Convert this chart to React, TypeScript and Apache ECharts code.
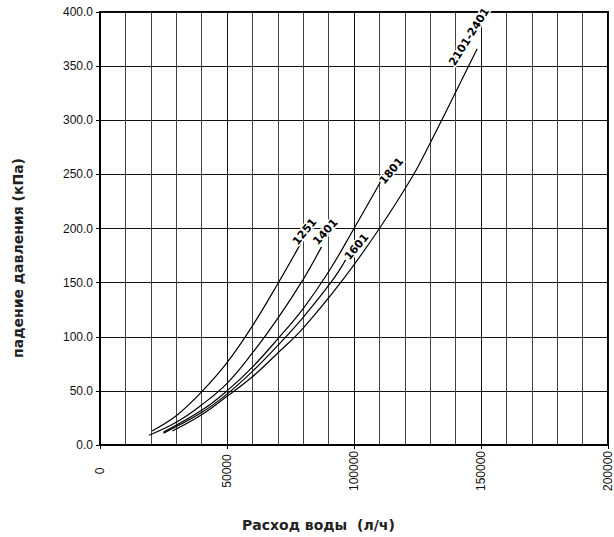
import React, { useEffect, useRef } from 'react';
import * as echarts from 'echarts';

// Axis ticks (labels)
const xTickValues = [0, 50000, 100000, 150000, 200000];
const yTickValues = [0, 50, 100, 150, 200, 250, 300, 350, 400];

// Curves: flow (л/ч) and pressure drop (кПа)
const curveNames = ['1251', '1401', '1601', '1801', '2101-2401'];

const q1251 = [20500, 30000, 40000, 50000, 60000, 70000, 79000];
const p1251 = [13, 27, 49, 76, 110, 149, 186];

const q1401 = [19300, 30000, 40000, 50000, 60000, 70000, 80000, 87200];
const p1401 = [9, 21, 37, 57, 85, 117, 153, 183];

const q1601 = [25000, 40000, 50000, 60000, 70000, 80000, 91500, 96700];
const p1601 = [11, 30, 47, 68, 92, 118, 152, 171];

const q1801 = [25000, 40000, 50000, 60000, 70000, 80000, 90000, 100000, 110400];
const p1801 = [12, 32, 50, 72, 98, 126, 160, 200, 243];

const q2101 = [28500, 40000, 50000, 60000, 70000, 80000, 95400, 110000, 123000, 130000, 148500];
const p2101 = [13, 28, 45, 63, 85, 108, 152, 200, 248, 279, 366];

const flows = [q1251, q1401, q1601, q1801, q2101];
const drops = [p1251, p1401, p1601, p1801, p2101];

// label placement (pixel offset of text centre from curve end, rotation in degrees)
const labelDx = [4, 4, 11, 11, -8];
const labelDy = [-12, -15, -13, -11, -12];
const labelAngle = [51, 48, 50, 50, 58];

export default function App() {
  const ref = useRef<HTMLDivElement>(null);
  useEffect(() => {
    if (!ref.current) return;
    const chart = echarts.init(ref.current, null, { renderer: 'svg' });
    const tickFont = '"Liberation Sans", Arial, sans-serif';
    const option: any = {
      animation: false,
      backgroundColor: '#fff',
      grid: {
        left: 100,
        right: 4,
        top: 12,
        bottom: 92,
        show: true,
        borderColor: '#000',
        borderWidth: 2,
        containLabel: false,
      },
      xAxis: {
        type: 'value',
        min: xTickValues[0],
        max: xTickValues[xTickValues.length - 1],
        interval: xTickValues[1] - xTickValues[0],
        axisLine: { show: true, lineStyle: { color: '#000', width: 2 } },
        axisTick: { show: true, length: 4, inside: false, lineStyle: { color: '#000' } },
        axisLabel: {
          rotate: 90,
          margin: 26,
          align: 'center',
          verticalAlign: 'middle',
          color: '#111',
          fontFamily: tickFont,
          fontSize: 12,
          formatter: (v: number) => String(v),
        },
        splitLine: { show: true, lineStyle: { color: '#111', width: 1 } },
        minorTick: { show: false, splitNumber: 5 },
        minorSplitLine: { show: true, lineStyle: { color: '#444', width: 1 } },
      },
      yAxis: {
        type: 'value',
        min: yTickValues[0],
        max: yTickValues[yTickValues.length - 1],
        interval: yTickValues[1] - yTickValues[0],
        axisLine: { show: true, lineStyle: { color: '#000', width: 2 } },
        axisTick: { show: true, length: 4, lineStyle: { color: '#000' } },
        axisLabel: {
          margin: 7,
          color: '#111',
          fontFamily: tickFont,
          fontSize: 12,
          formatter: (v: number) => v.toFixed(1),
        },
        splitLine: { show: true, lineStyle: { color: '#111', width: 1 } },
      },
      series: curveNames.map((name, i) => ({
        name,
        type: 'line',
        data: flows[i].map((q, j) => [q, drops[i][j]]),
        showSymbol: false,
        symbol: 'none',
        smooth: 0.4,
        lineStyle: { color: '#000', width: 1.2 },
        z: 5,
      })),
      graphic: [
        {
          type: 'text',
          left: 242,
          top: 518,
          style: {
            text: 'Расход воды  (л/ч)',
            font: 'bold 14px "DejaVu Sans", sans-serif',
            fill: '#222',
          },
        },
        {
          type: 'text',
          x: 18,
          y: 258,
          rotation: Math.PI / 2,
          style: {
            text: 'падение давления (кПа)',
            font: 'bold 14px "DejaVu Sans", sans-serif',
            fill: '#222',
            align: 'center',
            verticalAlign: 'middle',
            textAlign: 'center',
            textVerticalAlign: 'middle',
          },
        },
      ],
    };
    chart.setOption(option);

    const labels = curveNames.map((name, i) => {
      const q = flows[i][flows[i].length - 1];
      const p = drops[i][drops[i].length - 1];
      const pt = chart.convertToPixel({ xAxisIndex: 0, yAxisIndex: 0 }, [q, p]) as number[];
      return {
        type: 'text',
        x: pt[0] + labelDx[i],
        y: pt[1] + labelDy[i],
        rotation: (labelAngle[i] * Math.PI) / 180,
        z: 20,
        style: {
          text: name,
          font: 'bold 11px "DejaVu Sans", sans-serif',
          fill: '#000',
          stroke: '#fff',
          lineWidth: 3,
          align: 'center',
          verticalAlign: 'middle',
          textAlign: 'center',
          textVerticalAlign: 'middle',
        },
      };
    });
    chart.setOption({ graphic: [...option.graphic, ...labels] });

    return () => chart.dispose();
  }, []);
  return (
    <div
      ref={ref}
      style={{ position: 'fixed', left: 0, top: 0, width: 614, height: 537 }}
    />
  );
}
